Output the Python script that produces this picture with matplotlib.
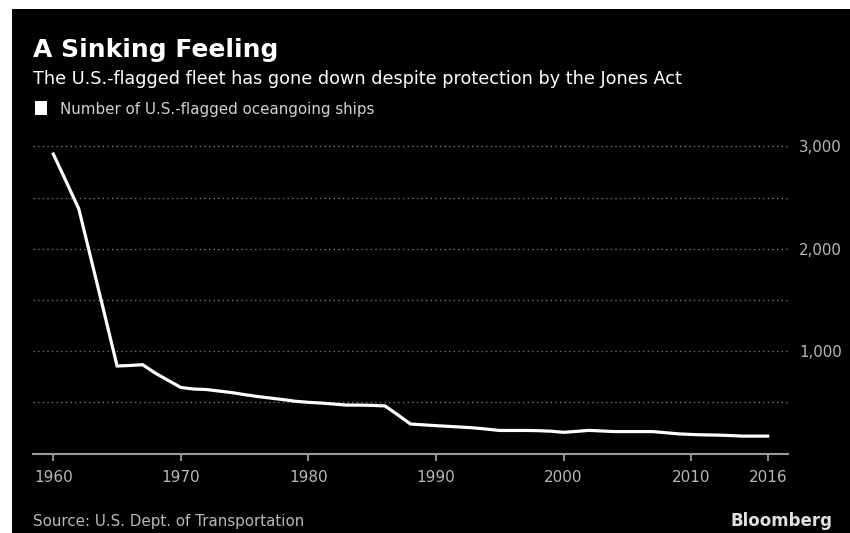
import matplotlib
matplotlib.use('Agg')
import matplotlib.pyplot as plt
from matplotlib.patches import Rectangle
from matplotlib.ticker import FixedLocator, FuncFormatter

# number of U.S.-flagged oceangoing ships
years = list(range(1960, 2017))
ships = [2926, 2660, 2390, 1880, 1370, 855, 860, 868, 785, 715,
         645, 630, 625, 610, 595, 575, 557, 542, 527, 510,
         500, 493, 483, 473, 473, 470, 465, 378, 288, 280,
         272, 265, 258, 250, 238, 225, 225, 225, 223, 218,
         207, 216, 226, 220, 214, 214, 214, 214, 203, 192,
         186, 182, 180, 176, 170, 170, 170]

xticks = [1960, 1970, 1980, 1990, 2000, 2010, 2016]
ygrid = [500, 1000, 1500, 2000, 2500, 3000]

title = 'A Sinking Feeling'
subtitle = 'The U.S.-flagged fleet has gone down despite protection by the Jones Act'
legend_label = 'Number of U.S.-flagged oceangoing ships'
source = 'Source: U.S. Dept. of Transportation'

plt.rcParams['font.family'] = ['DejaVu Sans']

W, H = 850, 533
fig = plt.figure(figsize=(W / 100, H / 100), dpi=100, facecolor='white')

def fx(px):
    return px / W

def fy(py):
    return 1 - py / H

# black card with thin white margin top/left
fig.patches.append(Rectangle((fx(12), 0), 1 - fx(12), fy(9), transform=fig.transFigure,
                             facecolor='black', edgecolor='none', zorder=-5))

ax = fig.add_axes([fx(33), fy(453.5), fx(788) - fx(33), fy(140) - fy(453.5)])
ax.set_facecolor('black')
ax.plot(years, ships, color='white', lw=2.3, solid_joinstyle='miter', zorder=3)

x0 = 1960 - 20.3 / 12.757
x1 = 2016 + 20.3 / 12.757
ax.set_xlim(x0, x1)
ax.set_ylim(0, 3000 + 6.5 / 0.1025)

for s in ['top', 'left', 'right']:
    ax.spines[s].set_visible(False)
ax.spines['bottom'].set_color('#999999')
ax.spines['bottom'].set_linewidth(1.5)

ax.set_xticks(xticks)
ax.set_xticklabels([str(t) for t in xticks])
ax.tick_params(axis='x', colors='#999999', length=5, width=1.3, pad=7,
               labelsize=11, labelcolor='#b8b8b8')

ax.yaxis.tick_right()
ax.yaxis.set_major_locator(FixedLocator(ygrid))
ax.yaxis.set_major_formatter(FuncFormatter(lambda v, p: f'{int(v):,}' if v % 1000 == 0 else ''))
ax.tick_params(axis='y', length=0, pad=8, labelsize=10.8, labelcolor='#b8b8b8')
ax.grid(axis='y', color='#7a7a7a', linestyle=(0, (1, 2.5)), linewidth=0.95)
ax.set_axisbelow(True)

fig.text(fx(33), fy(57), title, color='white', fontsize=18, fontweight='bold', va='baseline')
fig.text(fx(33), fy(84), subtitle, color='white', fontsize=12.7, va='baseline')
fig.patches.append(Rectangle((fx(35), fy(115)), fx(47) - fx(35), fy(101) - fy(115),
                             transform=fig.transFigure, facecolor='white', edgecolor='none'))
fig.text(fx(60), fy(114), legend_label, color='#d0d0d0', fontsize=10.9, va='baseline')
fig.text(fx(33), fy(526), source, color='#b8b8b8', fontsize=10.9, va='baseline')
fig.text(fx(833), fy(526), 'Bloomberg', color='#e0e0e0', fontsize=12, fontweight='bold',
         va='baseline', ha='right')

fig.savefig('out.png', dpi=100, facecolor=fig.get_facecolor())
